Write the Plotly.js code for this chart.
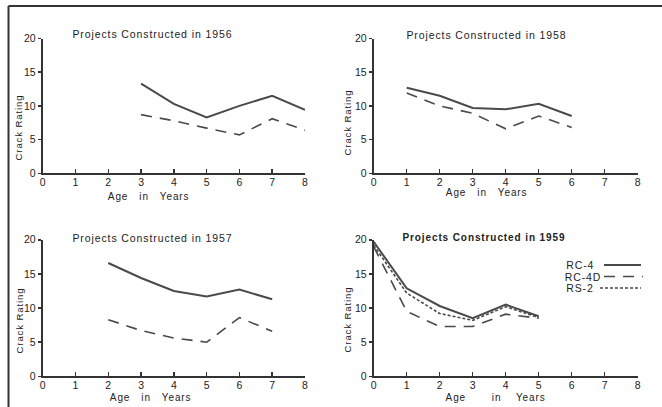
<!DOCTYPE html>
<html>
<head>
<meta charset="utf-8">
<script src="https://cdn.plot.ly/plotly-3.0.1.min.js"></script>
<style>
html,body{margin:0;padding:0;background:#fff}
#chart{width:662px;height:407px}
.annotation text{letter-spacing:0.9px}
</style>
</head>
<body>
<div id="chart"></div>
<script>
// ---- Data ----
const ticksX = [0, 1, 2, 3, 4, 5, 6, 7, 8];
const ticksY = [0, 5, 10, 15, 20];

const ages1956 = [3, 4, 5, 6, 7, 8];
const rc4_1956 = [13.3, 10.3, 8.3, 10.0, 11.5, 9.4];
const rc4d_1956 = [8.7, 7.8, 6.7, 5.7, 8.1, 6.4];

const ages1958 = [1, 2, 3, 4, 5, 6];
const rc4_1958 = [12.7, 11.5, 9.7, 9.5, 10.3, 8.5];
const rc4d_1958 = [11.9, 10.0, 8.9, 6.6, 8.5, 6.8];

const ages1957 = [2, 3, 4, 5, 6, 7];
const rc4_1957 = [16.6, 14.4, 12.5, 11.7, 12.7, 11.3];
const rc4d_1957 = [8.3, 6.7, 5.6, 5.0, 8.6, 6.6];

const ages1959 = [0, 1, 2, 3, 4, 5];
const rc4_1959 = [19.7, 12.9, 10.3, 8.5, 10.5, 8.8];
const rc4d_1959 = [19.0, 9.5, 7.3, 7.3, 9.1, 8.5];
const rs2_1959 = [19.2, 12.2, 9.2, 8.2, 10.2, 8.6];

const panelTitles = ["Projects Constructed in 1956", "Projects Constructed in 1958",
                     "Projects Constructed in 1957", "Projects Constructed in 1959"];
const seriesNames = ["RC-4", "RC-4D", "RS-2"];
const xTitle = "Age   in   Years";
const xTitle4 = "Age       in    Years";
const yTitle = "Crack Rating";

// ---- Styling / layout ----
const W = 662, H = 407;
const px = x => x / W;
const py = y => 1 - y / H;
const LINE = '#4a4a4a', AX = '#333', TXT = '#222';
const FONT = 'Liberation Sans, Arial, sans-serif';

const styles = {
  solid: {color: LINE, width: 2, dash: 'solid'},
  dash: {color: LINE, width: 1.6, dash: '11px,8px'},
  dot: {color: LINE, width: 1.6, dash: '3px,2px'}
};

function tr(x, y, xa, ya, st, name) {
  return {x: x, y: y, xaxis: xa, yaxis: ya, mode: 'lines', name: name,
          line: Object.assign({}, styles[st]), hoverinfo: 'skip'};
}

const data = [
  tr(ages1956, rc4_1956, 'x', 'y', 'solid', seriesNames[0]),
  tr(ages1956, rc4d_1956, 'x', 'y', 'dash', seriesNames[1]),
  tr(ages1958, rc4_1958, 'x2', 'y2', 'solid', seriesNames[0]),
  tr(ages1958, rc4d_1958, 'x2', 'y2', 'dash', seriesNames[1]),
  tr(ages1957, rc4_1957, 'x3', 'y3', 'solid', seriesNames[0]),
  tr(ages1957, rc4d_1957, 'x3', 'y3', 'dash', seriesNames[1]),
  tr(ages1959, rc4_1959, 'x4', 'y4', 'solid', seriesNames[0]),
  tr(ages1959, rc4d_1959, 'x4', 'y4', 'dash', seriesNames[1]),
  tr(ages1959, rs2_1959, 'x4', 'y4', 'dot', seriesNames[2])
];

function xax(x0, x1, anchor) {
  return {domain: [px(x0), px(x1)], range: [0, 8], tickvals: ticksX, ticks: 'inside',
          ticklen: 4, tickwidth: 1.5, tickcolor: AX, showline: true, linewidth: 2,
          linecolor: AX, showgrid: false, zeroline: false, anchor: anchor,
          ticklabelstandoff: -2,
          tickfont: {family: FONT, size: 10.5, color: TXT}, fixedrange: true};
}
function yax(y0, y1, anchor) {
  return {domain: [py(y0), py(y1)], range: [0, 20], tickvals: ticksY, ticks: 'outside',
          ticklen: 3, tickwidth: 1.5, tickcolor: AX, showline: true, linewidth: 2,
          linecolor: AX, showgrid: false, zeroline: false, anchor: anchor,
          tickfont: {family: FONT, size: 10.5, color: TXT}, fixedrange: true};
}

const L1 = 42.7, R1 = 305, L2 = 373.7, R2 = 637.7;
const B1 = 173.3, T1 = 38.5, B2 = 376.3, T2 = 239.8;

function ann(text, x, y, opts) {
  return Object.assign({text: text, x: px(x), y: py(y), xref: 'paper', yref: 'paper',
    showarrow: false, xanchor: 'center', yanchor: 'middle',
    font: {family: FONT, size: 10, color: TXT}}, opts || {});
}
const TF = {family: FONT, size: 10.5, color: TXT};
const YF = {family: FONT, size: 9.5, color: TXT};

const annotations = [
  ann(panelTitles[0], 152, 34.5, {font: TF}),
  ann(panelTitles[1], 486, 35, {font: TF}),
  ann(panelTitles[2], 152, 237.5, {font: TF}),
  ann('<b>' + panelTitles[3] + '</b>', 484, 237.5, {font: {family: FONT, size: 10, color: TXT}}),
  ann(xTitle, 148.5, 196.5),
  ann(xTitle, 486, 192),
  ann(xTitle, 150, 397),
  ann(xTitle4, 495, 397.5),
  ann(yTitle, 19, 128, {textangle: -90, font: YF}),
  ann(yTitle, 347, 123, {textangle: -90, font: YF}),
  ann(yTitle, 19, 321, {textangle: -90, font: YF}),
  ann(yTitle, 347, 320, {textangle: -90, font: YF}),
  ann(seriesNames[0], 580, 265, {font: TF}),
  ann(seriesNames[1], 583.5, 276.5, {font: TF}),
  ann(seriesNames[2], 579.5, 288, {font: TF})
];

function seg(x0, y0, x1, y1, st) {
  return {type: 'line', xref: 'paper', yref: 'paper', x0: px(x0), y0: py(y0), x1: px(x1), y1: py(y1),
          line: Object.assign({}, styles[st])};
}
const shapes = [
  // frame
  {type: 'line', xref: 'paper', yref: 'paper', x0: px(8.5), y0: py(6), x1: px(8.5), y1: 0,
   line: {color: AX, width: 2}},
  {type: 'line', xref: 'paper', yref: 'paper', x0: px(8.5), y0: py(6), x1: 1, y1: py(6),
   line: {color: AX, width: 2}},
  // legend samples
  seg(604, 265, 641, 265, 'solid'),
  seg(604, 276.5, 643, 276.5, 'dash'),
  seg(600, 288, 641, 288, 'dot')
];

const layout = {
  width: W, height: H, margin: {l: 0, r: 0, t: 0, b: 0},
  paper_bgcolor: '#fff', plot_bgcolor: 'rgba(0,0,0,0)', showlegend: false,
  xaxis: xax(L1, R1, 'y'), yaxis: yax(B1, T1, 'x'),
  xaxis2: xax(L2, R2, 'y2'), yaxis2: yax(B1, T1, 'x2'),
  xaxis3: xax(L1, R1, 'y3'), yaxis3: yax(B2, T2, 'x3'),
  xaxis4: xax(L2, R2, 'y4'), yaxis4: yax(B2, T2, 'x4'),
  annotations: annotations, shapes: shapes
};

Plotly.newPlot('chart', data, layout, {staticPlot: true, displayModeBar: false});
</script>
</body>
</html>
